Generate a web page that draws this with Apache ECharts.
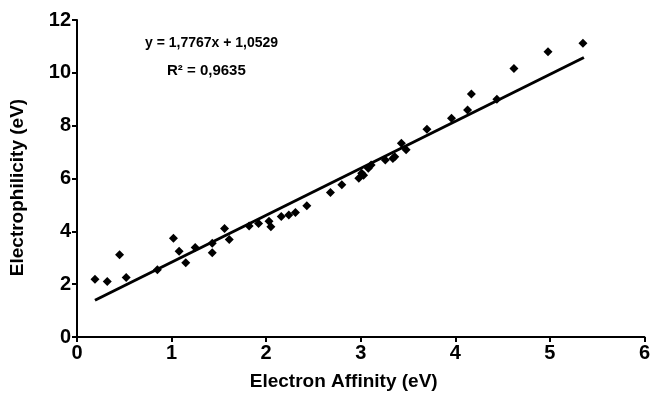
<!DOCTYPE html>
<html><head><meta charset="utf-8">
<script src="https://cdn.jsdelivr.net/npm/echarts@6/dist/echarts.min.js"></script>
<style>html,body{margin:0;padding:0;background:#fff}#c{width:653px;height:403px}</style>
</head><body><div id="c"></div>
<script>
var affinity = [0.19,0.32,0.45,0.52,0.85,1.02,1.08,1.15,1.25,1.43,1.43,1.56,1.61,1.82,1.92,2.03,2.05,2.16,2.24,2.31,2.43,2.68,2.80,2.98,3.01,3.03,3.08,3.11,3.26,3.34,3.36,3.43,3.48,3.70,3.96,4.13,4.17,4.44,4.62,4.98,5.35];
var electrophilicity = [2.19,2.10,3.11,2.25,2.55,3.74,3.25,2.81,3.39,3.55,3.19,4.11,3.69,4.20,4.30,4.38,4.17,4.56,4.62,4.71,4.97,5.47,5.76,6.01,6.20,6.12,6.39,6.51,6.70,6.76,6.82,7.33,7.09,7.86,8.28,8.59,9.20,9.00,10.16,10.80,11.12];
var trendX = [0.19, 5.36];
var trendY = [1.39, 10.58];
var xTicks = ['0','1','2','3','4','5','6'];
var yTicks = ['0','2','4','6','8','10','12'];
var equation = 'y = 1,7767x + 1,0529';
var rSquared = 'R² = 0,9635';

var pts = affinity.map(function(x,i){return [x, electrophilicity[i]];});
var line = trendX.map(function(x,i){return [x, trendY[i]];});
var F = '"Liberation Sans Narrow", "Arial Narrow", "Liberation Sans", Arial, sans-serif';
var T = 'Arial, "Liberation Sans", sans-serif';
var chart = echarts.init(document.getElementById('c'));
chart.setOption({
  animation:false,
  grid:{left:76,right:5,top:20,bottom:66},
  xAxis:{type:'value',min:0,max:6,interval:1,
    name:'Electron Affinity (eV)',nameLocation:'middle',nameGap:35,
    nameTextStyle:{fontFamily:T,fontWeight:'bold',fontSize:19,color:'#000',padding:[0,34,0,0]},
    axisLine:{lineStyle:{color:'#000',width:2}},
    axisTick:{show:true,length:5,lineStyle:{color:'#000',width:2}},
    splitLine:{show:false},
    axisLabel:{fontFamily:F,fontWeight:'bold',fontSize:20,color:'#000',margin:6,
      formatter:function(v){return xTicks[Math.round(v)];}}},
  yAxis:{type:'value',min:0,max:12,interval:2,
    name:'Electrophilicity (eV)',nameLocation:'middle',nameGap:50,
    nameTextStyle:{fontFamily:T,fontWeight:'bold',fontSize:19,color:'#000',padding:[0,18,0,0]},
    axisLine:{show:true,lineStyle:{color:'#000',width:2}},
    axisTick:{show:true,length:5,lineStyle:{color:'#000',width:2}},
    splitLine:{show:false},
    axisLabel:{fontFamily:F,fontWeight:'bold',fontSize:20,color:'#000',margin:6,
      formatter:function(v){return yTicks[Math.round(v/2)];}}},
  series:[
    {type:'line',data:line,symbol:'none',lineStyle:{color:'#000',width:3},z:2},
    {type:'scatter',data:pts,symbol:'diamond',symbolSize:9,itemStyle:{color:'#000',opacity:1},z:3}
  ],
  graphic:[
    {type:'text',left:145,top:36,style:{text:equation,font:'bold 14px '+T,fill:'#000'}},
    {type:'text',left:167,top:63,style:{text:rSquared,font:'bold 15px '+T,fill:'#000'}}
  ]
});
</script></body></html>
